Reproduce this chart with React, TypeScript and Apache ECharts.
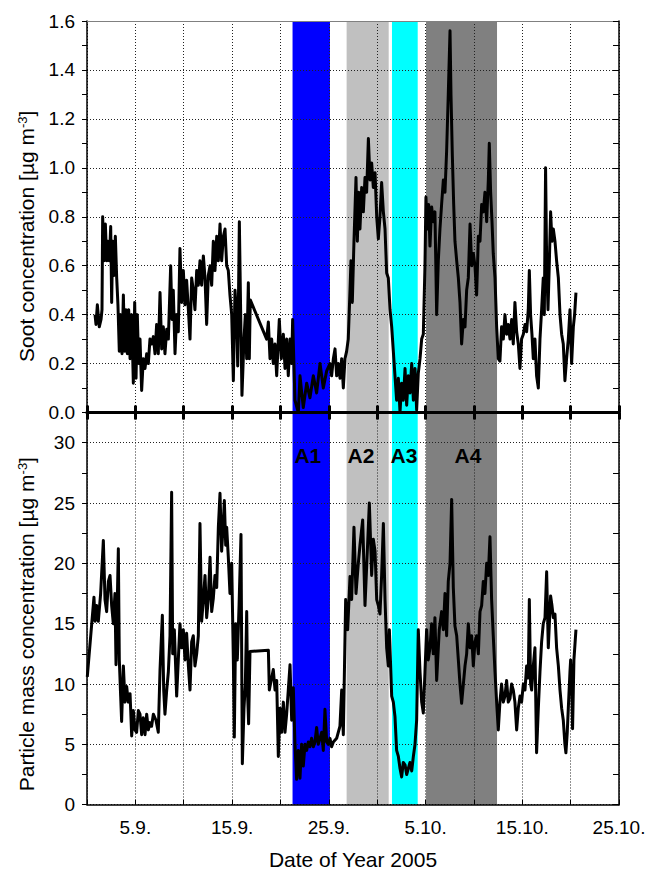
import React, { useEffect, useRef } from "react";
import * as echarts from "echarts";

// x values: days since 31 Aug 2005
const sootDays = [0.83, 0.93, 1.07, 1.27, 1.45, 1.55, 1.62, 1.76, 1.9, 2.03, 2.17, 2.31, 2.45, 2.55, 2.65, 2.79, 2.93, 3.07, 3.2, 3.34, 3.48, 3.62, 3.76, 3.89, 4.03, 4.17, 4.31, 4.45, 4.62, 4.79, 4.93, 5.07, 5.2, 5.34, 5.48, 5.65, 5.82, 6.0, 6.17, 6.34, 6.51, 6.68, 6.86, 7.03, 7.2, 7.37, 7.55, 7.72, 7.89, 8.06, 8.24, 8.41, 8.65, 8.79, 8.92, 9.1, 9.27, 9.44, 9.61, 9.79, 9.96, 10.13, 10.3, 10.48, 10.65, 10.82, 10.99, 11.16, 11.34, 11.51, 11.68, 11.85, 12.03, 12.2, 12.37, 12.54, 12.72, 12.89, 13.06, 13.23, 13.41, 13.58, 13.75, 13.92, 14.1, 14.27, 14.44, 14.61, 14.78, 14.96, 15.13, 15.3, 15.47, 15.58, 15.75, 15.89, 16.02, 16.23, 16.37, 16.51, 16.68, 16.78, 16.88, 18.57, 18.75, 18.92, 19.09, 19.26, 19.44, 19.61, 19.88, 20.09, 20.3, 20.47, 20.64, 20.81, 20.99, 21.16, 21.26, 21.5, 21.85, 22.02, 22.36, 22.71, 23.05, 23.4, 23.74, 24.09, 24.43, 24.78, 25.12, 25.29, 25.47, 25.64, 25.81, 25.98, 26.16, 26.33, 26.5, 26.67, 26.84, 27.01, 27.19, 27.29, 27.43, 27.6, 27.81, 27.95, 28.09, 28.22, 28.4, 28.57, 28.74, 28.91, 29.09, 29.26, 29.43, 29.6, 29.78, 29.95, 30.12, 30.29, 30.46, 30.64, 30.81, 30.98, 31.15, 31.33, 31.5, 31.67, 31.84, 32.01, 32.19, 32.36, 32.53, 32.7, 32.88, 33.05, 33.22, 33.39, 33.57, 33.74, 33.91, 34.08, 34.25, 34.43, 34.6, 34.77, 34.94, 35.04, 35.18, 35.32, 35.46, 35.63, 35.8, 35.97, 36.15, 36.32, 36.49, 36.66, 36.84, 37.01, 37.18, 37.35, 37.53, 37.63, 37.77, 37.91, 38.04, 38.22, 38.39, 38.56, 38.73, 38.91, 39.08, 39.25, 39.42, 39.6, 39.77, 39.94, 40.11, 40.28, 40.46, 40.63, 40.8, 40.97, 41.14, 41.32, 41.49, 41.59, 41.73, 41.87, 42.0, 42.18, 42.35, 42.52, 42.69, 42.86, 43.04, 43.21, 43.38, 43.55, 43.73, 43.9, 44.07, 44.24, 44.42, 44.59, 44.76, 44.93, 45.11, 45.28, 45.45, 45.62, 45.73, 45.86, 46.0, 46.14, 46.31, 46.48, 46.66, 46.83, 47.0, 47.17, 47.28, 47.41, 47.52, 47.66, 47.79, 47.93, 48.07, 48.21, 48.38, 48.55, 48.73, 48.9, 49.07, 49.24, 49.41, 49.58, 49.76, 49.93, 50.1, 50.28, 50.41, 50.55];
const sootValues = [0.4, 0.36, 0.44, 0.35, 0.38, 0.42, 0.8, 0.62, 0.77, 0.62, 0.7, 0.62, 0.76, 0.45, 0.7, 0.56, 0.72, 0.55, 0.44, 0.25, 0.4, 0.24, 0.48, 0.25, 0.42, 0.24, 0.42, 0.22, 0.4, 0.12, 0.45, 0.14, 0.4, 0.2, 0.3, 0.09, 0.22, 0.18, 0.24, 0.2, 0.3, 0.28, 0.31, 0.24, 0.36, 0.24, 0.49, 0.26, 0.35, 0.24, 0.34, 0.3, 0.6, 0.38, 0.5, 0.24, 0.4, 0.33, 0.67, 0.45, 0.58, 0.44, 0.54, 0.42, 0.3, 0.55, 0.5, 0.42, 0.58, 0.52, 0.62, 0.52, 0.64, 0.55, 0.36, 0.56, 0.6, 0.52, 0.7, 0.58, 0.72, 0.62, 0.77, 0.62, 0.72, 0.75, 0.6, 0.58, 0.48, 0.4, 0.13, 0.5, 0.4, 0.19, 0.78, 0.4, 0.07, 0.3, 0.4, 0.22, 0.53, 0.22, 0.46, 0.3, 0.37, 0.22, 0.3, 0.2, 0.28, 0.15, 0.38, 0.22, 0.32, 0.18, 0.3, 0.15, 0.3, 0.2, 0.38, 0.05, 0.0, 0.15, 0.02, 0.12, 0.06, 0.15, 0.08, 0.2, 0.1, 0.17, 0.2, 0.15, 0.22, 0.26, 0.15, 0.2, 0.14, 0.22, 0.1, 0.22, 0.25, 0.3, 0.5, 0.62, 0.45, 0.7, 0.96, 0.7, 0.9, 0.75, 0.92, 0.82, 0.96, 0.9, 1.12, 0.95, 1.02, 0.92, 0.98, 0.8, 0.71, 0.8, 0.94, 0.82, 0.75, 0.57, 0.55, 0.42, 0.35, 0.25, 0.15, 0.05, 0.14, 0.0, 0.12, 0.05, 0.18, 0.03, 0.15, 0.08, 0.2, 0.05, 0.18, 0.01, 0.16, 0.22, 0.3, 0.32, 0.6, 0.88, 0.75, 0.85, 0.68, 0.84, 0.78, 0.82, 0.4, 0.62, 0.75, 0.85, 0.95, 0.9, 1.07, 1.3, 1.56, 1.3, 1.05, 0.85, 0.7, 0.62, 0.55, 0.45, 0.28, 0.38, 0.35, 0.5, 0.55, 0.77, 0.6, 0.65, 0.6, 0.48, 0.72, 0.7, 0.85, 0.82, 0.9, 0.78, 0.95, 1.1, 0.9, 0.78, 0.65, 0.55, 0.35, 0.22, 0.21, 0.35, 0.3, 0.4, 0.32, 0.36, 0.3, 0.38, 0.28, 0.45, 0.33, 0.28, 0.18, 0.3, 0.32, 0.36, 0.33, 0.42, 0.58, 0.4, 0.32, 0.22, 0.3, 0.15, 0.1, 0.3, 0.42, 0.55, 0.4, 1.0, 0.62, 0.42, 0.6, 0.82, 0.7, 0.75, 0.7, 0.62, 0.55, 0.4, 0.32, 0.28, 0.13, 0.22, 0.3, 0.42, 0.2, 0.35, 0.4, 0.49];

const pmDays = [0.03, 0.72, 0.83, 1.0, 1.17, 1.41, 1.69, 1.86, 2.03, 2.21, 2.38, 2.55, 2.72, 2.89, 3.0, 3.24, 3.34, 3.48, 3.58, 3.76, 3.93, 4.1, 4.27, 4.45, 4.62, 4.79, 4.96, 5.13, 5.31, 5.48, 5.65, 5.82, 6.0, 6.17, 6.34, 6.51, 6.68, 6.86, 7.13, 7.37, 7.55, 7.79, 7.93, 8.06, 8.24, 8.41, 8.58, 8.75, 8.86, 9.03, 9.27, 9.44, 9.61, 9.79, 9.96, 10.13, 10.3, 10.48, 10.65, 10.82, 10.99, 11.16, 11.34, 11.51, 11.68, 11.85, 12.03, 12.2, 12.37, 12.54, 12.72, 12.89, 13.06, 13.23, 13.41, 13.58, 13.75, 13.92, 14.1, 14.2, 14.34, 14.44, 14.61, 14.78, 14.96, 15.13, 15.23, 15.37, 15.54, 15.72, 15.92, 16.06, 16.23, 16.37, 16.51, 16.61, 16.71, 16.85, 18.75, 18.85, 19.09, 19.26, 19.44, 19.61, 19.78, 19.95, 20.12, 20.3, 20.47, 20.64, 20.81, 20.99, 21.16, 21.33, 21.5, 21.67, 21.85, 22.02, 22.19, 22.36, 22.54, 22.71, 22.88, 23.05, 23.22, 23.4, 23.57, 23.74, 23.91, 24.09, 24.26, 24.43, 24.6, 24.78, 24.95, 25.12, 25.29, 25.47, 25.81, 26.15, 26.33, 26.5, 26.74, 26.95, 27.19, 27.36, 27.6, 27.81, 28.05, 28.22, 28.5, 28.74, 28.98, 29.19, 29.43, 29.6, 29.78, 29.95, 30.12, 30.29, 30.46, 30.64, 30.81, 30.98, 31.15, 31.26, 31.5, 31.67, 31.84, 32.01, 32.19, 32.36, 32.53, 32.7, 32.88, 33.05, 33.22, 33.39, 33.57, 33.74, 33.91, 34.08, 34.25, 34.43, 34.6, 34.77, 34.94, 35.11, 35.28, 35.46, 35.63, 35.8, 35.97, 36.15, 36.32, 36.42, 36.66, 36.84, 37.01, 37.18, 37.35, 37.53, 37.7, 37.87, 38.04, 38.22, 38.39, 38.56, 38.73, 38.91, 39.08, 39.25, 39.42, 39.6, 39.77, 39.94, 40.11, 40.28, 40.46, 40.63, 40.8, 40.97, 41.14, 41.32, 41.49, 41.66, 41.83, 42.0, 42.18, 42.35, 42.52, 42.69, 42.86, 43.04, 43.21, 43.38, 43.55, 43.73, 43.9, 44.07, 44.24, 44.42, 44.59, 44.76, 44.93, 45.11, 45.28, 45.45, 45.62, 45.73, 45.86, 45.97, 46.14, 46.31, 46.48, 46.66, 46.83, 47.0, 47.17, 47.35, 47.52, 47.69, 47.93, 48.07, 48.21, 48.38, 48.55, 48.73, 48.9, 49.07, 49.24, 49.41, 49.51, 49.65, 49.76, 49.93, 50.0, 50.14, 50.2, 50.34, 50.55];
const pmValues = [10.6, 17.2, 15.2, 16.5, 15.2, 17.5, 21.9, 17.0, 16.0, 18.5, 19.0, 16.5, 15.0, 17.5, 11.6, 21.2, 12.0, 9.0, 6.9, 11.5, 8.5, 9.8, 8.5, 9.2, 5.7, 7.8, 6.2, 6.0, 7.8, 7.5, 5.8, 7.2, 5.8, 7.5, 6.2, 6.8, 6.5, 7.5, 7.0, 6.0, 11.2, 15.7, 9.5, 7.5, 9.5, 11.0, 14.0, 25.9, 12.5, 14.5, 9.0, 12.0, 15.0, 13.0, 14.5, 12.0, 14.2, 11.5, 9.5, 13.5, 14.0, 11.5, 12.5, 14.0, 23.3, 15.2, 17.0, 19.0, 15.5, 17.0, 20.5, 16.0, 17.1, 19.0, 18.0, 23.0, 25.8, 21.0, 23.5, 25.2, 21.5, 23.0, 20.5, 17.5, 20.0, 12.0, 5.6, 15.0, 12.0, 16.5, 22.4, 3.4, 8.0, 10.0, 16.0, 9.0, 6.7, 12.7, 12.8, 9.5, 10.5, 11.2, 9.5, 10.3, 4.0, 8.0, 6.0, 8.5, 6.0, 7.5, 9.5, 11.6, 7.0, 9.7, 5.0, 2.1, 4.5, 2.2, 5.0, 3.2, 5.0, 4.5, 5.2, 4.8, 5.5, 4.8, 5.2, 6.4, 5.0, 5.5, 6.0, 4.5, 7.9, 5.2, 5.0, 5.5, 4.8, 5.2, 5.5, 6.5, 9.5, 5.8, 17.0, 14.5, 18.9, 17.0, 23.0, 17.5, 20.0, 21.5, 23.6, 16.5, 21.0, 25.0, 19.0, 22.0, 21.0, 17.0, 16.5, 15.8, 19.0, 23.3, 17.0, 13.0, 11.5, 14.5, 9.0, 8.5, 7.3, 4.5, 4.0, 3.0, 2.3, 3.5, 3.3, 2.5, 3.0, 3.5, 2.8, 4.0, 5.0, 7.0, 14.5, 11.0, 8.5, 7.6, 11.0, 14.5, 12.0, 13.0, 15.0, 12.5, 15.5, 10.3, 13.0, 14.5, 16.0, 14.5, 17.5, 14.0, 18.5, 20.0, 25.3, 18.0, 14.8, 14.0, 12.0, 10.0, 8.4, 10.0, 11.5, 12.5, 15.0, 13.0, 14.0, 11.5, 13.5, 14.0, 12.5, 16.0, 16.5, 18.5, 17.5, 20.0, 19.0, 22.2, 17.0, 14.0, 11.0, 8.5, 6.2, 8.5, 10.0, 8.5, 9.0, 10.3, 8.5, 8.8, 10.0, 9.5, 8.5, 6.2, 8.0, 9.0, 8.5, 10.0, 9.5, 11.5, 10.5, 17.0, 10.0, 9.5, 11.5, 13.0, 4.3, 8.0, 11.0, 13.5, 15.0, 15.5, 19.3, 13.0, 17.3, 16.5, 15.5, 15.8, 13.0, 11.5, 9.5, 8.0, 7.0, 5.0, 4.3, 6.0, 8.0, 11.0, 12.0, 9.0, 6.3, 12.0, 14.5];

// Shaded periods A1..A4 (days since 31 Aug)
const bandNames = ["A1", "A2", "A3", "A4"];
const bandStarts = [21.25, 26.84, 31.53, 35.05];
const bandEnds = [25.12, 31.19, 34.19, 42.39];
const bandColors = ["#0000ff", "#c0c0c0", "#00ffff", "#808080"];
const bandLabelDays = [22.83, 28.33, 32.77, 39.39];
const bandLabelLevel = 28.9;

const xTickLabelDays = [5, 15, 25, 35, 45, 55];

const FONT = "'Liberation Sans', Arial, Helvetica, sans-serif";

function dayLabel(d: number): string {
  const dt = new Date(2005, 7, 31 + Math.round(d));
  return `${dt.getDate()}.${dt.getMonth() + 1}.`;
}

export default function App() {
  const ref = useRef<HTMLDivElement>(null);
  useEffect(() => {
    if (!ref.current) return;
    const chart = echarts.init(ref.current, undefined, { renderer: "svg" });
    const dotted = { show: true, lineStyle: { color: "#222", width: 1, type: [1, 2] as any } };
    const bandArea = {
      silent: true,
      z: 0,
      label: { show: false },
      data: bandStarts.map((s, i) => [
        { xAxis: s, itemStyle: { color: bandColors[i], opacity: 1 } },
        { xAxis: bandEnds[i] },
      ]),
    };
    const nameRich = {
      sup: { fontSize: 13, lineHeight: 13, verticalAlign: "top", fontFamily: FONT, color: "#000" },
    };
    const option: any = {
      animation: false,
      textStyle: { fontFamily: FONT },
      grid: [
        { left: 87, right: 31, top: 21, height: 391.5 },
        { left: 87, right: 31, top: 412.5, height: 392.2 },
      ],
      xAxis: [
        {
          gridIndex: 0, type: "value", min: 0, max: 55, interval: 5, position: "bottom", z: 1,
          axisLine: { onZero: false, lineStyle: { color: "#000", width: 3 } },
          axisTick: { show: true, inside: false, length: 7, lineStyle: { color: "#000", width: 3 } },
          axisLabel: { show: false },
          splitLine: dotted,
        },
        {
          gridIndex: 0, type: "value", min: 0, max: 55, interval: 5, position: "top", z: 1,
          axisLine: { onZero: false, lineStyle: { color: "#808080", width: 1 } },
          axisTick: { show: false }, axisLabel: { show: false }, splitLine: { show: false },
        },
        {
          gridIndex: 1, type: "value", min: 0, max: 55, interval: 5, position: "top", z: 1,
          axisLine: { onZero: false, lineStyle: { color: "#000", width: 3 } },
          axisTick: { show: true, inside: false, length: 7, lineStyle: { color: "#000", width: 3 } },
          axisLabel: { show: false }, splitLine: { show: false },
        },
        {
          gridIndex: 1, type: "value", min: 0, max: 55, interval: 5, position: "bottom", z: 1,
          axisLine: { onZero: false, lineStyle: { color: "#000", width: 1.5 } },
          axisTick: { show: true, inside: true, length: 5, lineStyle: { color: "#000", width: 1 } },
          axisLabel: {
            color: "#000", fontSize: 19, margin: 13, fontFamily: FONT,
            formatter: (v: number) => (xTickLabelDays.indexOf(Math.round(v)) >= 0 ? dayLabel(v) : ""),
          },
          splitLine: dotted,
          name: "Date of Year 2005", nameLocation: "middle", nameGap: 44,
          nameTextStyle: { color: "#000", fontSize: 21, fontFamily: FONT },
        },
      ],
      yAxis: [
        {
          gridIndex: 0, type: "value", min: 0, max: 1.6, interval: 0.2, position: "left", z: 1,
          axisLine: { show: true, onZero: false, lineStyle: { color: "#000", width: 1.5 } },
          axisTick: { show: true, inside: false, length: 5, lineStyle: { color: "#000" } },
          minorTick: { show: true, splitNumber: 2, length: 5, lineStyle: { color: "#000" } },
          axisLabel: { color: "#000", fontSize: 19, margin: 12, fontFamily: FONT, formatter: (v: number) => v.toFixed(1) },
          splitLine: dotted,
          name: "Soot concentration [µg m{sup|-3}]", nameLocation: "middle", nameGap: 50,
          nameTextStyle: { color: "#000", fontSize: 21, fontFamily: FONT, padding: [0, 39, 0, 0], rich: nameRich },
        },
        {
          gridIndex: 0, type: "value", min: 0, max: 1.6, interval: 0.2, position: "right", z: 1,
          axisLine: { show: true, onZero: false, lineStyle: { color: "#000", width: 1.5 } },
          axisTick: { show: true, inside: true, length: 6, lineStyle: { color: "#000" } },
          minorTick: { show: true, splitNumber: 2, length: 6, lineStyle: { color: "#000" } },
          axisLabel: { show: false }, splitLine: { show: false },
        },
        {
          gridIndex: 1, type: "value", min: 0, max: 32.5, interval: 5, position: "left", z: 1,
          axisLine: { show: true, onZero: false, lineStyle: { color: "#000", width: 1.5 } },
          axisTick: { show: false },
          axisLabel: {
            color: "#000", fontSize: 19, margin: 12, fontFamily: FONT, showMaxLabel: false,
            formatter: (v: number) => (v > 30.01 ? "" : String(Math.round(v))),
          },
          splitLine: dotted,
          name: "Particle mass concentration [µg m{sup|-3}]", nameLocation: "middle", nameGap: 50,
          nameTextStyle: { color: "#000", fontSize: 21, fontFamily: FONT, padding: [0, 31, 0, 0], rich: nameRich },
        },
        {
          gridIndex: 1, type: "value", min: 0, max: 32.5, interval: 2.5, position: "right", z: 1,
          axisLine: { show: true, onZero: false, lineStyle: { color: "#000", width: 1.5 } },
          axisTick: { show: true, inside: true, length: 6, lineStyle: { color: "#000" } },
          axisLabel: { show: false }, splitLine: { show: false },
        },
        {
          gridIndex: 1, type: "value", min: 0, max: 32.5, interval: 2.5, position: "left", z: 1,
          axisLine: { show: false, onZero: false },
          axisTick: { show: true, inside: false, length: 5, lineStyle: { color: "#000" } },
          axisLabel: { show: false }, splitLine: { show: false },
        },
      ],
      series: [
        {
          name: "Soot", type: "line", xAxisIndex: 0, yAxisIndex: 0, z: 3,
          data: sootDays.map((d, i) => [d, sootValues[i]]),
          showSymbol: false, symbol: "none",
          lineStyle: { color: "#000", width: 3, join: "round" },
          markArea: bandArea,
        },
        {
          name: "PM", type: "line", xAxisIndex: 3, yAxisIndex: 2, z: 3,
          data: pmDays.map((d, i) => [d, pmValues[i]]),
          showSymbol: false, symbol: "none",
          lineStyle: { color: "#000", width: 3, join: "round" },
          markArea: bandArea,
        },
        {
          name: "Periods", type: "scatter", xAxisIndex: 3, yAxisIndex: 2, z: 4,
          symbolSize: 0, silent: true,
          itemStyle: { opacity: 1 },
          data: bandNames.map((n, i) => ({ name: n, value: [bandLabelDays[i], bandLabelLevel] })),
          label: {
            show: true, position: "inside", formatter: (p: any) => p.name, opacity: 1,
            fontSize: 21, fontWeight: "bold", color: "#000", fontFamily: FONT,
          },
        },
      ],
    };
    chart.setOption(option);
    return () => chart.dispose();
  }, []);
  return (
    <div
      ref={ref}
      style={{ position: "absolute", left: 0, top: 0, width: 650, height: 871, background: "#fff" }}
    />
  );
}
